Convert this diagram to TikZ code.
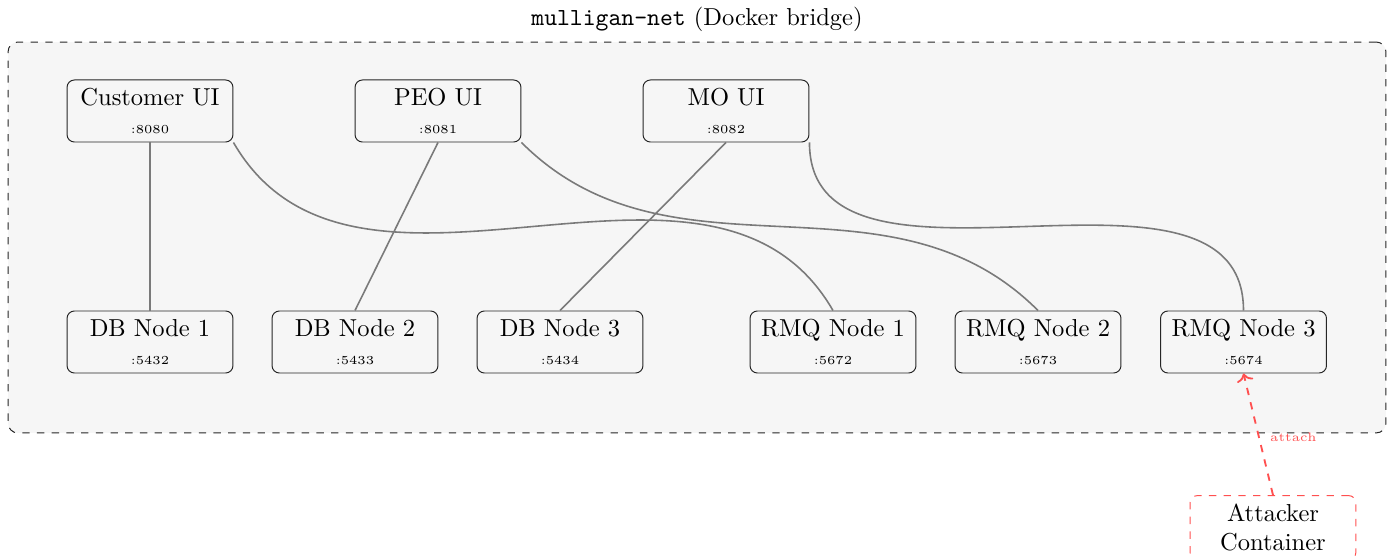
\documentclass[tikz,border=0pt]{standalone}
\usetikzlibrary{arrows.meta}
\definecolor{netfill}{HTML}{F6F6F6}
\definecolor{atkred}{HTML}{FF5050}
\tikzset{
  svc/.style={draw=black!85, rounded corners=3pt, align=center, minimum width=67.7pt, minimum height=25.3pt, inner sep=3pt},
  link/.style={draw=black!52, line width=0.65pt},
  atkbox/.style={draw=atkred, dashed, rounded corners=3pt, align=center, minimum width=67.7pt, minimum height=25.3pt},
  atklink/.style={draw=atkred, dashed, line width=0.75pt, ->},
  port/.style={font=\tiny}
}
\begin{document}
\begin{tikzpicture}[x=0.408pt,y=0.408pt]
\useasboundingbox (0,0) rectangle (1390,-556);
\node (net) [draw=black!85, dashed, fill=netfill, rounded corners=4pt, minimum width=562.2pt, minimum height=159.5pt, inner sep=0pt] at (697,-237.5) {};
\node (title) [anchor=south, inner sep=3pt] at ([yshift=1pt]net.north) {\texttt{mulligan-net} (Docker bridge)};

\node (cust) [svc] at (150,-111) {Customer UI\\[-0.6pt]{\tiny :8080}};
\node (peo)  [svc] at (438,-111) {PEO UI\\[-0.6pt]{\tiny :8081}};
\node (mo)   [svc] at (726,-111) {MO UI\\[-0.6pt]{\tiny :8082}};

\node (db1)  [svc] at (150,-342) {DB Node 1\\[-0.6pt]{\tiny :5432}};
\node (db2)  [svc] at (355,-342) {DB Node 2\\[-0.6pt]{\tiny :5433}};
\node (db3)  [svc] at (560,-342) {DB Node 3\\[-0.6pt]{\tiny :5434}};
\node (rmq1) [svc] at (833,-342) {RMQ Node 1\\[-0.6pt]{\tiny :5672}};
\node (rmq2) [svc] at (1038,-342) {RMQ Node 2\\[-0.6pt]{\tiny :5673}};
\node (rmq3) [svc] at (1243.5,-342) {RMQ Node 3\\[-0.6pt]{\tiny :5674}};

\node (att) [atkbox] at (1273,-527.5) {Attacker\\Container};

\draw[link] (cust.south) -- (db1.north);
\draw[link] (peo.south) -- (db2.north);
\draw[link] (mo.south) -- (db3.north);
\draw[link] (cust.south east) to[out=-60,in=120] (rmq1.north);
\draw[link] (peo.south east) to[out=-45,in=135] (rmq2.north);
\draw[link] (mo.south east) to[out=-90,in=90] (rmq3.north);

\draw[atklink] (att.north) -- node[right, font=\tiny, text=atkred, inner sep=2pt, xshift=2.5pt, yshift=-1.2pt] {attach} (rmq3.south);
\end{tikzpicture}
\end{document}
